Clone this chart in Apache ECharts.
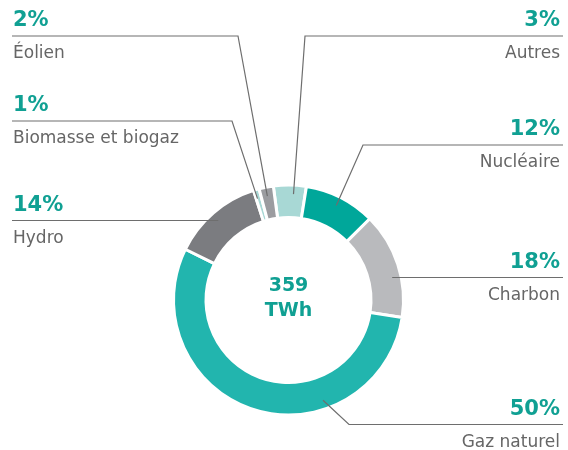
<!DOCTYPE html>
<html>
<head>
<meta charset="utf-8">
<script src="https://cdn.jsdelivr.net/npm/echarts@6/dist/echarts.min.js"></script>
<style>
  html,body{margin:0;padding:0;background:#fff}
  #main{width:568px;height:450px}
</style>
</head>
<body>
<div id="main"></div>
<script>
// sources, clockwise from the top of the ring
let categories = ["Autres","Nucléaire","Charbon","Gaz naturel","Hydro","Biomasse et biogaz","Éolien"]
// slice sizes as drawn in the picture (share of the ring)
let shares = [4.6, 10.0, 14.9, 54.8, 12.8, 0.8, 2.0]
// percentages printed next to each source
let pctLabels = ["3%","12%","18%","50%","14%","1%","2%"]
let totalLabel = "359\nTWh"

let colors = ['#a8d8d5','#00a79a','#b9babd','#22b5ae','#7b7c80','#a8d8d5','#9b9ca0']

// where each label sits: anchor angle on the ring (deg, clockwise from top),
// y of the rule under the percentage, x where the rule bends, side of the page
let labelPos = [
  {a:2.7,   y:36,    bend:305,  side:'right'},
  {a:26.8,  y:145,   bend:363,  side:'right'},
  {a:78,    y:277.5, bend:null, side:'right'},
  {a:161,   y:424.5, bend:349,  side:'right'},
  {a:318.5, y:220.5, bend:null, side:'left'},
  {a:343,   y:121,   bend:232,  side:'left'},
  {a:348.5, y:36,    bend:238,  side:'left'}
]

let cx = 288.5, cy = 300, anchorR = 106
let font = "'DejaVu Sans', sans-serif"

let myChart = echarts.init(document.getElementById('main'))

let ring = {
  type: 'pie',
  center: [cx, cy],
  radius: [82.5, 115],
  startAngle: 97.6,
  clockwise: true,
  avoidLabelOverlap: false,
  silent: true
}

let option = {
  animation: false,
  backgroundColor: '#fff',
  title: {
    text: totalLabel,
    left: cx,
    top: 273,
    padding: 0,
    textAlign: 'center',
    textStyle: {
      fontFamily: font,
      fontWeight: 'bold',
      fontSize: 19,
      lineHeight: 25.6,
      color: '#10a093'
    }
  },
  series: [
    // the ring itself
    Object.assign({}, ring, {
      z: 2,
      data: categories.map((name, i) => ({
        name: name,
        value: shares[i],
        itemStyle: { color: colors[i] }
      })),
      itemStyle: { borderColor: '#fff', borderWidth: 3 },
      label: { show: false },
      labelLine: { show: false }
    }),
    // same ring, invisible, carrying the labels so the rules sit on top of the slices
    Object.assign({}, ring, {
      z: 3,
      data: categories.map((name, i) => ({ name: name, value: shares[i] })),
      itemStyle: { color: 'rgba(0,0,0,0)', borderWidth: 0 },
      label: {
        show: true,
        position: 'outside',
        formatter: p => '{p|' + pctLabels[p.dataIndex] + '}\n{n|' + p.name + '}',
        rich: {
          p: { fontFamily: font, fontWeight: 'bold', fontSize: 21, color: '#10a093', lineHeight: 24 },
          n: { fontFamily: font, fontSize: 17, color: '#666666', lineHeight: 42 }
        }
      },
      labelLine: {
        show: true,
        lineStyle: { color: '#6e6e6e', width: 1.2 }
      },
      labelLayout: function (params) {
        let p = labelPos[params.dataIndex]
        let rad = p.a * Math.PI / 180
        let left = p.side === 'left'
        let ax = cx + anchorR * Math.sin(rad)
        let ay = cy - anchorR * Math.cos(rad)
        let endX = left ? 12 : 563
        let pts = []
        if (p.bend == null) {
          pts.push([ax, p.y])
        } else {
          pts.push([ax, ay])
          pts.push([p.bend, p.y])
        }
        pts.push([endX, p.y])
        return {
          x: left ? 13 : 560,
          y: p.y - 27,
          align: left ? 'left' : 'right',
          verticalAlign: 'top',
          labelLinePoints: pts
        }
      }
    })
  ]
}

myChart.setOption(option)
</script>
</body>
</html>
